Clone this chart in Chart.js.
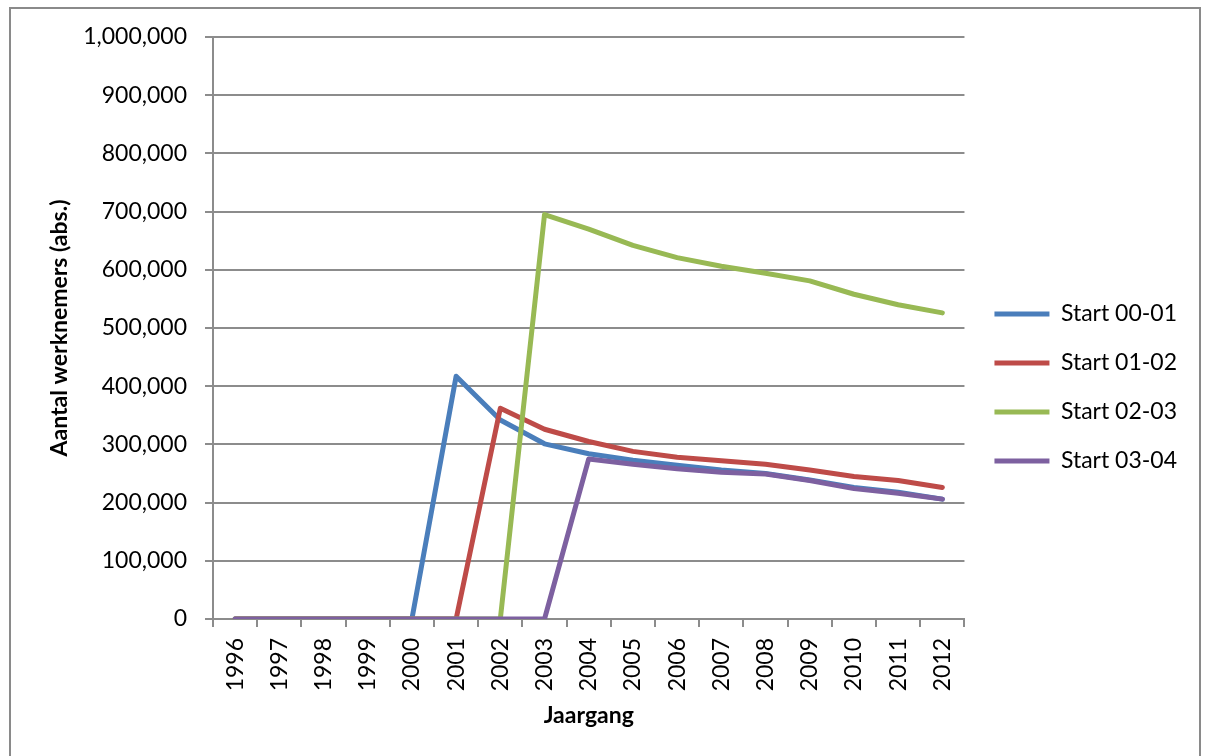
<!DOCTYPE html>
<html>
<head>
<meta charset="utf-8">
<script src="https://cdn.jsdelivr.net/npm/chart.js@4/dist/chart.umd.min.js"></script>
<style>
  html, body { margin: 0; padding: 0; background: #fff; }
  #wrap { width: 1206px; height: 756px; position: relative; }
</style>
</head>
<body>
<div id="wrap"><canvas id="c" width="1206" height="756"></canvas></div>
<script>
const years = ['1996','1997','1998','1999','2000','2001','2002','2003','2004','2005','2006','2007','2008','2009','2010','2011','2012'];
const start0001 = [0,0,0,0,0,417000,342000,301000,284000,273000,264000,256000,250000,239000,226000,218000,206000];
const start0102 = [0,0,0,0,0,0,362000,326000,305000,288000,278000,272000,266000,256000,245000,238000,226000];
const start0203 = [0,0,0,0,0,0,0,695000,670000,642000,621000,606000,594000,581000,558000,540000,526000];
const start0304 = [0,0,0,0,0,0,0,0,275000,266000,258000,252000,249000,238000,224000,216000,206000];
const seriesNames = ['Start 00-01','Start 01-02','Start 02-03','Start 03-04'];
const yTitle = 'Aantal werknemers (abs.)';
const xTitle = 'Jaargang';

const FONT = 'Lato, "Open Sans", sans-serif';
const GRID = '#8c8c8c';

const frame = {
  id: 'frame',
  beforeDraw(chart) {
    const ctx = chart.ctx;
    ctx.save();
    ctx.fillStyle = '#fff';
    ctx.fillRect(0, 0, chart.width, chart.height);
    ctx.strokeStyle = '#8a8a8a';
    ctx.lineWidth = 2;
    ctx.strokeRect(10, 8, 1190, 760);
    ctx.restore();
  }
};
const legendShift = {
  id: 'legendShift',
  afterLayout(chart) {
    const lg = chart.legend;
    if (lg) { lg.left += 4; lg.right += 4; }
  }
};

function ds(label, data, color, order) {
  return {
    label, data, borderColor: color, backgroundColor: color,
    borderWidth: 5, pointRadius: 0, pointHoverRadius: 0, tension: 0,
    borderCapStyle: 'round', borderJoinStyle: 'round', fill: false, order
  };
}

new Chart(document.getElementById('c'), {
  type: 'line',
  data: {
    labels: years,
    datasets: [
      ds(seriesNames[0], start0001, '#4a7ebb', 4),
      ds(seriesNames[1], start0102, '#be4b48', 3),
      ds(seriesNames[2], start0203, '#98b954', 2),
      ds(seriesNames[3], start0304, '#7d60a0', 1)
    ]
  },
  options: {
    responsive: false,
    animation: false,
    layout: { padding: { top: 37, left: 10, right: 23, bottom: 18 } },
    plugins: {
      tooltip: { enabled: false },
      legend: {
        position: 'right',
        labels: {
          usePointStyle: true,
          pointStyle: 'line',
          pointStyleWidth: 55,
          padding: 26,
          color: '#000',
          font: { family: FONT, size: 23 },
          sort: (a, b) => a.datasetIndex - b.datasetIndex
        }
      }
    },
    scales: {
      x: {
        type: 'category',
        offset: true,
        grid: { offset: true, drawOnChartArea: false, drawTicks: true, tickLength: 8, color: GRID, lineWidth: 2 },
        border: { color: GRID, width: 2 },
        ticks: { color: '#000', font: { family: FONT, size: 23 }, minRotation: 90, maxRotation: 90, padding: 11, autoSkip: false },
        title: { display: true, text: xTitle, color: '#000', font: { family: FONT, size: 23, weight: 'bold' }, padding: { top: 0, bottom: 9 } },
        afterFit(scale) { scale.height = 119; }
      },
      y: {
        min: 0, max: 1000000,
        grid: { color: GRID, lineWidth: 2, tickLength: 8, drawTicks: true },
        border: { color: GRID, width: 2 },
        ticks: {
          stepSize: 100000, color: '#000', padding: 18,
          font: { family: FONT, size: 23 },
          callback: v => Number(v).toLocaleString('en-US')
        },
        title: { display: true, text: yTitle, color: '#000', font: { family: FONT, size: 23, weight: 'bold' }, padding: { top: 36, bottom: 0 } },
        afterFit(scale) { scale.width = 203; }
      }
    }
  },
  plugins: [frame, legendShift]
});
</script>
</body>
</html>
